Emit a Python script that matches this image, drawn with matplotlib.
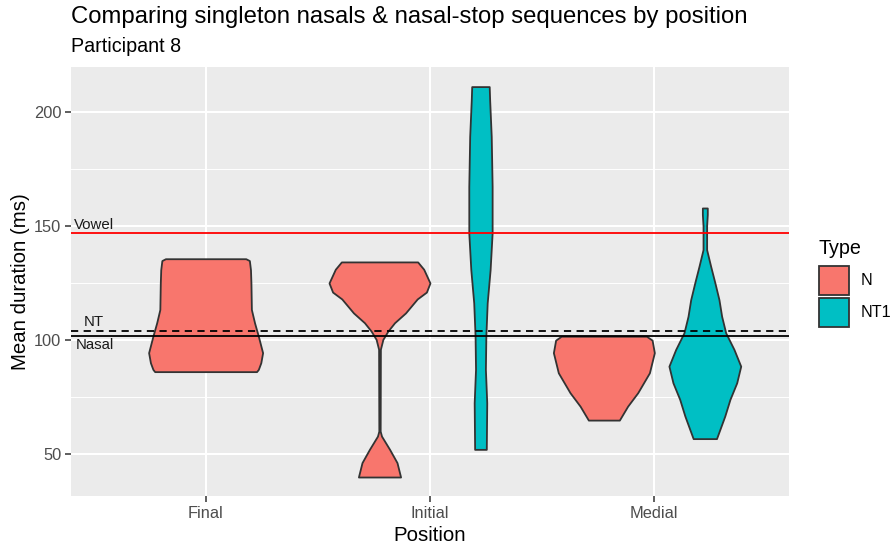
import matplotlib
matplotlib.use("Agg")
import matplotlib.pyplot as plt
from matplotlib.patches import Rectangle

plt.rcParams['font.family'] = ['Liberation Sans', 'DejaVu Sans']

# categories / groups
positions = ['Final', 'Initial', 'Medial']
types = ['N', 'NT1']
type_colors = {'N': '#F8766D', 'NT1': '#00BFC4'}

# violin outlines: duration (ms) and half width (x units)
final_n_y = [135.6, 134.8, 130.8, 125.0, 113.4, 107.6, 101.7, 94.5, 90.1, 87.2, 86.2]
final_n_w = [0.179, 0.195, 0.200, 0.202, 0.204, 0.218, 0.235, 0.254, 0.246, 0.235, 0.227]

initial_n_y = [134.2, 131.0, 125.0, 121.0, 118.0, 111.9, 107.6, 103.9, 100.3, 96.0, 60.2, 58.0, 52.2, 46.4, 40.1]
initial_n_w = [0.170, 0.197, 0.225, 0.209, 0.168, 0.116, 0.067, 0.037, 0.015, 0.004, 0.003, 0.009, 0.045, 0.078, 0.094]

initial_nt1_y = [210.9, 205.0, 189.1, 167.2, 146.9, 130.8, 116.3, 101.7, 87.2, 72.6, 52.2]
initial_nt1_w = [0.039, 0.041, 0.048, 0.052, 0.052, 0.043, 0.030, 0.024, 0.022, 0.028, 0.026]

medial_n_y = [101.7, 100.0, 94.5, 85.7, 77.0, 71.1, 65.0]
medial_n_w = [0.190, 0.215, 0.225, 0.203, 0.151, 0.106, 0.069]

medial_nt1_y = [157.8, 155.0, 150.0, 139.6, 132.3, 125.0, 117.7, 110.4, 103.2, 95.9, 88.6, 81.3, 74.1, 66.8, 56.9]
medial_nt1_w = [0.011, 0.011, 0.008, 0.008, 0.026, 0.045, 0.063, 0.075, 0.093, 0.130, 0.160, 0.142, 0.112, 0.089, 0.052]

violins = [
    ('Final', 'N', final_n_y, final_n_w),
    ('Initial', 'N', initial_n_y, initial_n_w),
    ('Initial', 'NT1', initial_nt1_y, initial_nt1_w),
    ('Medial', 'N', medial_n_y, medial_n_w),
    ('Medial', 'NT1', medial_nt1_y, medial_nt1_w),
]

# reference lines
ref_labels = ['Vowel', 'NT', 'Nasal']
ref_values = [146.9, 104.0, 101.7]

fig = plt.figure(figsize=(8.93, 5.5), dpi=100)
ax = fig.add_axes([0.0795, 0.0982, 0.804, 0.7805])
ax.set_facecolor('#EBEBEB')

# dodge: groups present at each position
for pos_i, pos in enumerate(positions):
    present = [v for v in violins if v[0] == pos]
    n = len(present)
    for k, (_, typ, ys, ws) in enumerate(present):
        if n == 1:
            xc = pos_i
        else:
            xc = pos_i + (k - (n - 1) / 2) * 0.45
        left = [xc - w for w in ws]
        right = [xc + w for w in ws]
        ax.fill_betweenx(ys, left, right, facecolor=type_colors[typ],
                         edgecolor='#333333', linewidth=1.3, zorder=3)

# reference lines
ax.axhline(ref_values[0], color='#FF0000', linewidth=1.3, zorder=4)
ax.axhline(ref_values[1], color='black', linewidth=1.3, linestyle=(0, (4, 3)), zorder=4)
ax.axhline(ref_values[2], color='black', linewidth=1.3, zorder=4)

ax.text(-0.588, ref_values[0] + 0.6, ref_labels[0], fontsize=10.8, color='#1A1A1A',
        ha='left', va='bottom', zorder=5)
ax.text(-0.50, ref_values[1] + 0.8, ref_labels[1], fontsize=10.8, color='#1A1A1A',
        ha='center', va='bottom', zorder=5)
ax.text(-0.578, ref_values[2] - 0.9, ref_labels[2], fontsize=10.8, color='#1A1A1A',
        ha='left', va='top', zorder=5)

ax.set_xlim(-0.6, 2.6)
ax.set_ylim(31.8, 219.6)
ax.set_xticks(range(len(positions)))
ax.set_xticklabels(positions)
ax.set_yticks([50, 100, 150, 200])
ax.set_yticks([75, 125, 175], minor=True)

ax.grid(which='major', color='white', linewidth=1.5)
ax.grid(which='minor', axis='y', color='white', linewidth=0.7)
ax.set_axisbelow(True)
for s in ax.spines.values():
    s.set_visible(False)
ax.tick_params(which='major', length=4, width=1.1, color='#333333',
               labelsize=11.8, labelcolor='#4D4D4D', pad=3)
ax.tick_params(which='minor', length=0)

ax.set_xlabel('Position', fontsize=14.7, color='black', labelpad=4)
ax.set_ylabel('Mean duration (ms)', fontsize=14.7, color='black', labelpad=3)

fig.text(0.0795, 0.969, 'Comparing singleton nasals & nasal-stop sequences by position',
         fontsize=17.2, ha='left', va='center')
fig.text(0.0795, 0.915, 'Participant 8', fontsize=14.2, ha='left', va='center')

# legend, drawn by hand in figure fraction
fig.text(0.917, 0.549, 'Type', fontsize=14.2, ha='left', va='center')
key_bottoms = [0.4636, 0.4055]
for t, yb in zip(types, key_bottoms):
    fig.add_artist(Rectangle((0.9171, yb), 0.0336, 0.0525, transform=fig.transFigure,
                             facecolor=type_colors[t], edgecolor='#333333', linewidth=1.3))
    fig.text(0.9635, yb + 0.026, t, fontsize=11.6, ha='left', va='center')

fig.savefig('out.png', dpi=100)
